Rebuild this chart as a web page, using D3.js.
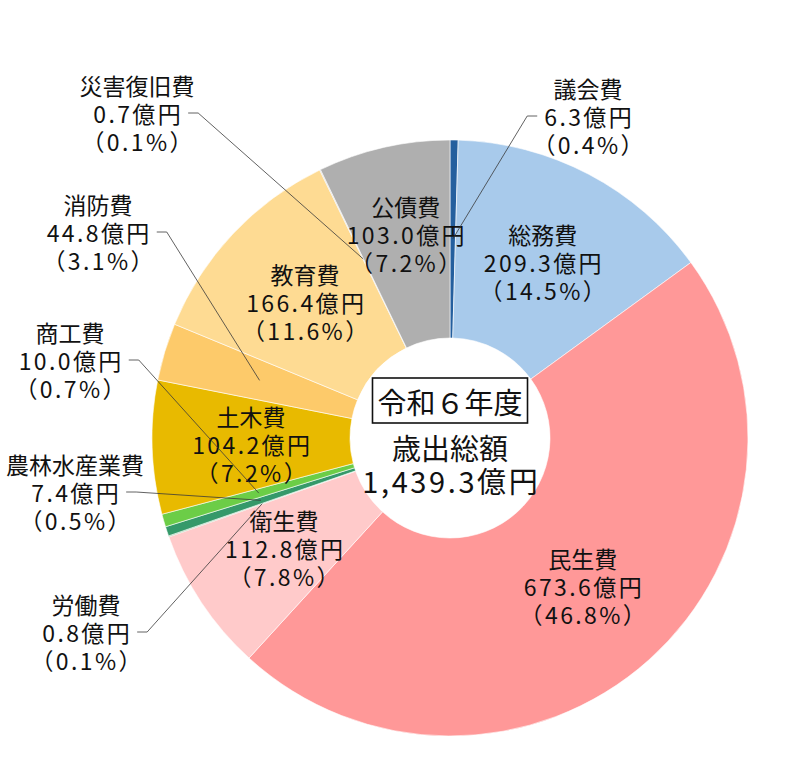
<!DOCTYPE html>
<html>
<head>
<meta charset="utf-8">
<script src="https://cdn.jsdelivr.net/npm/d3@7"></script>
<style>
  body { margin: 0; background: #fff; }
  svg text { font-family: "Noto Sans CJK JP", "Noto Sans", sans-serif; fill: #111; }
</style>
</head>
<body>
<svg id="chart"></svg>
<script>
// 歳出の内訳 (億円)
var categories = ["議会費", "総務費", "民生費", "衛生費", "労働費", "農林水産業費",
                  "商工費", "土木費", "消防費", "教育費", "災害復旧費", "公債費"];
var amounts = [6.3, 209.3, 673.6, 112.8, 0.8, 7.4, 10.0, 104.2, 44.8, 166.4, 0.7, 103.0];
var shares = ["0.4", "14.5", "46.8", "7.8", "0.1", "0.5", "0.7", "7.2", "3.1", "11.6", "0.1", "7.2"];
var totalLabel = "1,439.3億円";
var yearLabel = "令和６年度";

var colors = ["#245f9e", "#a8caeb", "#ff9898", "#ffcaca", "#8fbf8f", "#35996a",
              "#6ccd47", "#e8ba00", "#fdca6a", "#fedb93", "#c8c8c8", "#afafaf"];

// labels drawn outside the ring: where the text sits and which side the leader goes
var outsideLabels = {
  "議会費":     {x: 588, y: 116, side: "right"},
  "災害復旧費": {x: 137, y: 113, side: "left"},
  "消防費":     {x: 98,  y: 232, side: "left"},
  "商工費":     {x: 70,  y: 360, side: "left"},
  "農林水産業費": {x: 75, y: 492, side: "left"},
  "労働費":     {x: 86,  y: 632, side: "left"}
};
// small nudges for labels placed inside the ring
var insideNudge = {"公債費": -10};

var width = 788, height = 780;
var cx = 450, cy = 438;
var outerR = 298, innerR = 100;
var lineGap = 28;

var svg = d3.select("#chart").attr("width", width).attr("height", height);
var g = svg.append("g").attr("transform", "translate(" + cx + "," + cy + ")");

var rows = categories.map(function (c, i) {
  return {name: c, value: amounts[i], share: shares[i], color: colors[i]};
});

var pie = d3.pie().sort(null).value(function (d) { return d.value; });
var arc = d3.arc().innerRadius(innerR).outerRadius(outerR);
var midArc = d3.arc().innerRadius(199).outerRadius(199);

var arcs = pie(rows);

//draw slices
g.selectAll("path.slice")
  .data(arcs)
  .enter().append("path")
  .attr("class", "slice")
  .attr("d", arc)
  .style("fill", function (d) { return d.data.color; })
  .style("stroke", "#fff")
  .style("stroke-width", 0.6);

//helper that writes the three lines of a label
function writeLabel(sel, d, x, y) {
  var t = sel.append("text")
    .attr("text-anchor", "middle")
    .style("font-size", "23px");
  var lines = [d.data.name, d.data.value.toFixed(1) + "億円", "（" + d.data.share + "%）"];
  lines.forEach(function (txt, i) {
    t.append("tspan")
      .attr("x", x + (i > 0 ? 1.2 : 0))
      .attr("y", y + (i - 1) * lineGap)
      .attr("dominant-baseline", "central")
      .style("letter-spacing", i > 0 ? "2.4px" : "0px")
      .text(txt);
  });
  return t;
}

var labelLayer = svg.append("g");
var leaderLayer = svg.append("g");

arcs.forEach(function (d) {
  var place = outsideLabels[d.data.name];
  if (place) {
    var t = writeLabel(labelLayer, d, place.x, place.y);
    var box = t.selectAll("tspan").nodes()[1].getBBox();
    var startX = place.side === "left" ? box.x + box.width + 5 : box.x - 7;
    var stubX = place.side === "left" ? startX + 10 : startX - 10;
    var c = midArc.centroid(d);
    var pts = [[startX, place.y], [stubX, place.y], [cx + c[0], cy + c[1]]];
    leaderLayer.append("path")
      .attr("d", d3.line()(pts))
      .style("fill", "none")
      .style("stroke", "#3a3a3a")
      .style("stroke-width", 0.8);
  } else if (d.data.value > 50) {
    var p = midArc.centroid(d);
    writeLabel(labelLayer, d, cx + p[0], cy + p[1] + (insideNudge[d.data.name] || 0));
  }
});

//centre text
var centre = svg.append("g");
var boxRect = centre.append("rect");
var yearText = centre.append("text")
  .attr("x", cx).attr("y", 401)
  .attr("text-anchor", "middle")
  .attr("dominant-baseline", "central")
  .style("font-size", "29px")
  .text(yearLabel);
var yb = yearText.node().getBBox();
boxRect
  .attr("x", yb.x - 5).attr("y", 378)
  .attr("width", yb.width + 10).attr("height", 45)
  .style("fill", "#fff")
  .style("stroke", "#111")
  .style("stroke-width", 1.6);

centre.append("text")
  .attr("x", cx).attr("y", 447)
  .attr("text-anchor", "middle")
  .attr("dominant-baseline", "central")
  .style("font-size", "29px")
  .text("歳出総額");

centre.append("text")
  .attr("x", cx + 1.3).attr("y", 480)
  .attr("text-anchor", "middle")
  .attr("dominant-baseline", "central")
  .style("font-size", "29px")
  .style("letter-spacing", "2.6px")
  .text(totalLabel);
</script>
</body>
</html>
